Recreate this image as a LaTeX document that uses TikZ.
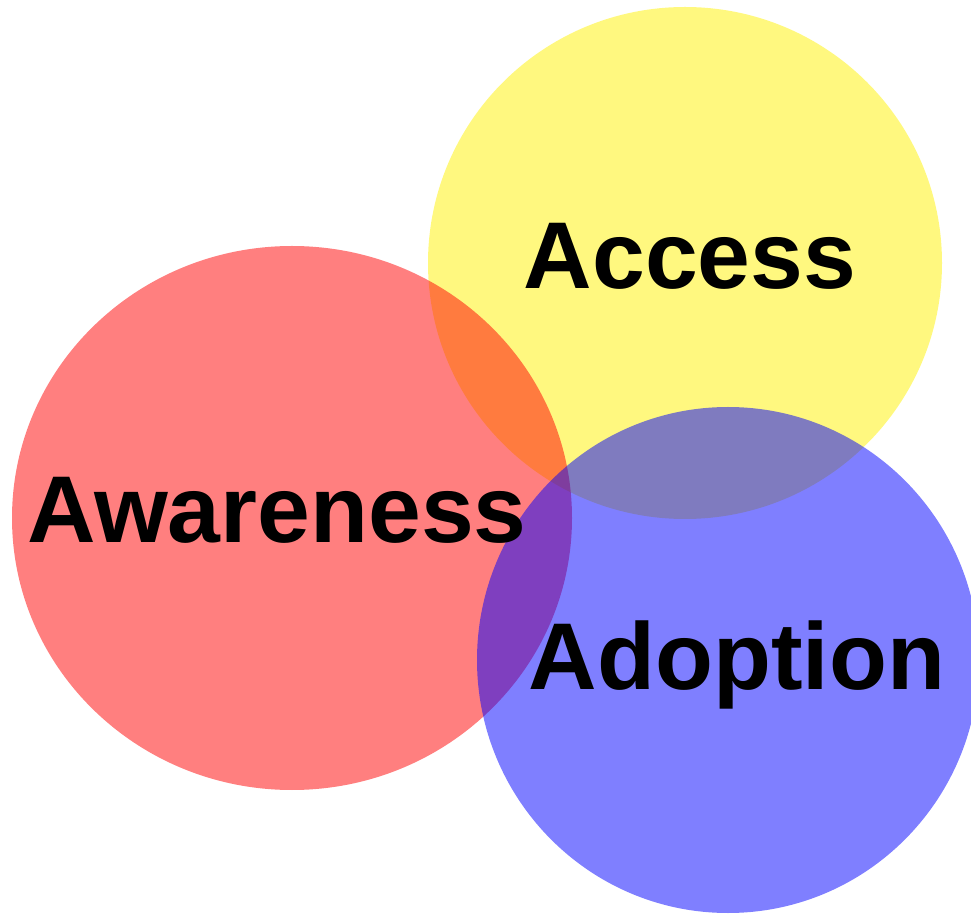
\documentclass[tikz,border=0pt]{standalone}
\usepackage{fontspec}
\setmainfont{Liberation Sans}
\begin{document}
\begin{tikzpicture}[x=0.02cm, y=-0.02cm]
  \tikzstyle{blob}=[fill opacity=0.5, draw=none]
  \tikzstyle{label}=[anchor=base, inner sep=0pt, font=\fontsize{54}{60}\selectfont\bfseries]

  \useasboundingbox (0, 0) rectangle (971, 915);

  \fill[blob, yellow] (685, 263) ellipse [x radius=257, y radius=256];
  \fill[blob, red]    (292, 518) ellipse [x radius=280, y radius=272];
  \fill[blob, blue]   (728, 660) ellipse [x radius=251, y radius=253];

  \node[label] (access)    at (690, 289) {Access};
  \node[label] (awareness) at (277, 543) {Awareness};
  \node[label] (adoption)  at (737, 689) {Adoption};
\end{tikzpicture}
\end{document}
